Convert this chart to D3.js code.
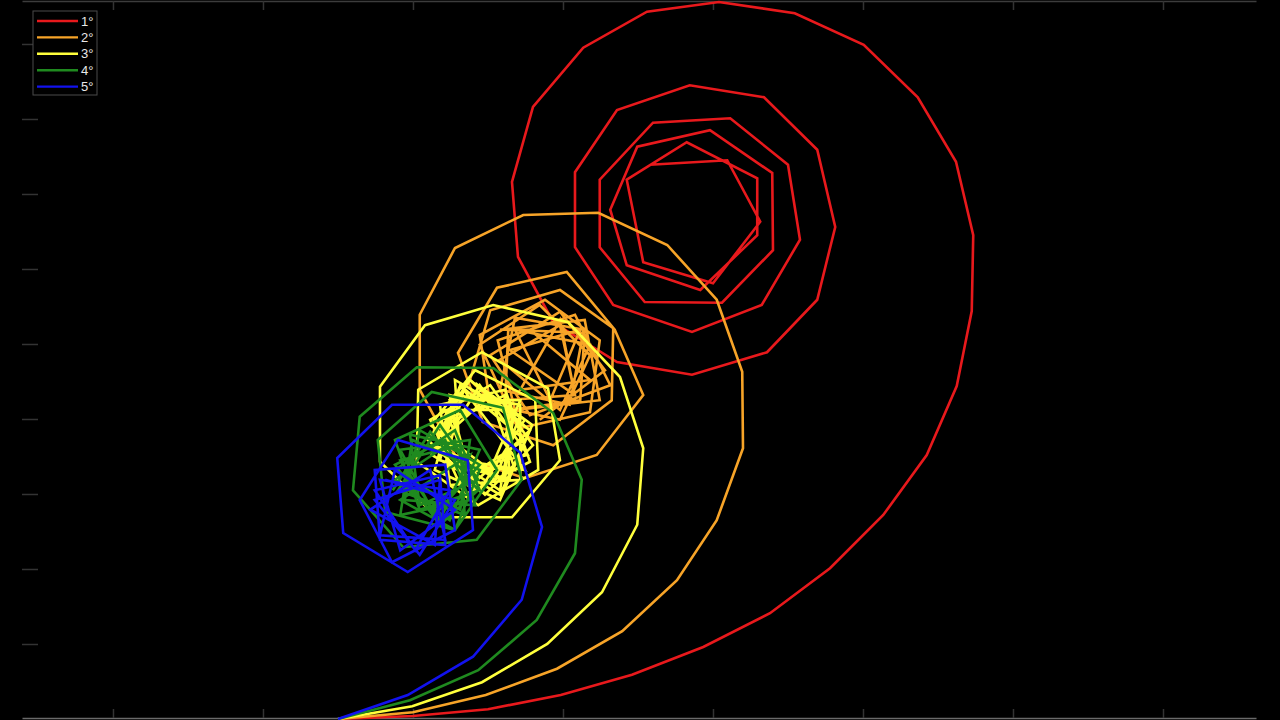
<!DOCTYPE html>
<html><head><meta charset="utf-8">
<script src="https://cdn.jsdelivr.net/npm/d3@7"></script>
<style>html,body{margin:0;padding:0;background:#000;}svg{display:block;}</style>
</head><body>
<script>
// Series labels and colours
const seriesNames = ["1°", "2°", "3°", "4°", "5°"];
const seriesColors = ["#e8191c", "#f7a428", "#ffff3c", "#1f8a1f", "#1212ee"];

// Tick positions (no labels shown)
const xTicks = [-3, -1, 1, 3, 5, 7, 9, 11];
const yTicks = [1, 2, 3, 4, 5, 6, 7, 8, 9];

// Path vertices (x, y in step units)
const red1X = [0,1.00,2.00,2.97,3.92,4.87,5.76,6.56,7.27,7.85,8.25,8.45,8.47,8.24,7.73,7.01,6.09,5.08,4.12,3.27,2.60,2.32,2.40,2.87,3.72,4.72,5.72,6.39,6.63,6.39,5.68,4.69,3.72,3.16,3.16,3.67,4.72,5.65,6.16,6.00,5.23,4.20,3.49,3.49,4.09,5.12,5.80,5.79,4.96,3.99,3.63,3.85,4.83,5.59,5.59,4.65,3.85,4.07,5.00,5.63,5.19,4.16];
const red1Y = [0,0.04,0.13,0.32,0.59,0.96,1.41,2.01,2.72,3.52,4.44,5.44,6.45,7.43,8.29,8.99,9.41,9.56,9.43,8.95,8.16,7.16,6.16,5.29,4.76,4.59,4.89,5.59,6.56,7.59,8.29,8.45,8.12,7.29,6.29,5.52,5.16,5.52,6.39,7.39,8.01,7.95,7.19,6.29,5.56,5.55,6.25,7.28,7.85,7.63,6.79,6.05,5.72,6.45,7.21,7.69,7.19,6.09,5.81,6.63,7.45,7.39];

const orange2X = [0,1.00,1.97,2.92,3.79,4.52,5.05,5.40,5.39,5.05,4.39,3.47,2.47,1.56,1.09,1.09,1.56,2.49,3.45,4.07,3.69,3.05,2.12,1.60,1.93,2.87,3.65,3.67,2.96,2.03,1.76,2.43,3.36,3.49,2.76,1.89,2.03,2.96,3.36,2.69,1.89,2.29,3.23,3.29,2.36,2.16,3.09,3.27,2.27,2.23,3.16,2.96,2.16,2.96,3.36,2.36,2.83,3.23,2.29,3.16,2.96,2.43,3.36,2.56,2.16,3.29,3.49,2.36,2.13,3.16,3.63,2.56,2.03,2.96,3.56,2.69];
const orange2Y = [0,0.09,0.32,0.67,1.17,1.85,2.65,3.61,4.63,5.59,6.32,6.75,6.72,6.28,5.39,4.39,3.52,3.21,3.52,4.32,5.19,5.96,5.75,4.88,3.96,3.65,4.25,5.21,5.72,5.45,4.52,3.88,4.09,5.05,5.59,5.12,4.19,3.99,4.85,5.52,4.99,4.12,4.25,5.19,5.35,4.39,4.19,5.15,5.19,4.25,4.32,5.25,4.79,4.12,4.99,5.19,4.25,5.19,4.92,4.32,5.32,4.39,4.52,5.19,5.19,5.32,4.25,4.12,5.05,5.39,4.45,4.05,4.85,5.43,4.65,3.99];

const yellow3X = [0,0.99,1.92,2.79,3.52,3.99,4.07,3.76,3.07,2.07,1.16,0.56,0.56,1.32,2.32,2.96,2.80,1.92,1.07,1.05,1.87,2.67,2.63,1.83,1.23,2.03,2.43,1.49,1.76,2.49,1.63,1.36,2.29,2.23,1.29,2.09,2.43,1.49,1.65,2.53,1.89,1.36,2.16,2.36,1.43,1.83,2.56,1.69,1.43,2.36,2.03,1.29,2.23,2.29,1.36,1.89,2.49,1.56,1.63,2.49,1.63,1.25,2.16,2.56,1.76,1.20,1.96,2.60,2.03,1.23,1.69,2.56,2.23,1.36,1.49,2.43,2.43,1.56,1.29,2.16,2.59,1.83];
const yellow3Y = [0,0.17,0.49,1.00,1.69,2.59,3.61,4.56,5.29,5.52,5.25,4.43,3.43,2.69,2.69,3.45,4.41,4.89,4.39,3.43,2.85,3.32,4.25,4.65,3.92,3.32,4.25,4.25,3.25,3.72,4.45,3.45,3.19,4.32,3.85,3.19,4.05,4.32,3.32,3.52,4.45,3.59,3.05,4.12,4.12,3.16,3.85,4.45,3.39,3.32,4.32,3.65,3.19,4.25,3.99,3.05,3.99,4.52,3.45,3.32,4.45,3.52,2.99,3.85,4.52,3.72,2.99,3.65,4.45,3.99,2.99,3.43,4.39,4.19,3.12,3.19,4.19,4.32,3.32,2.92,3.92,4.48];

const green4X = [0,0.96,1.87,2.65,3.16,3.25,2.87,2.07,1.05,0.29,0.20,0.87,1.85,2.45,2.20,1.25,0.53,0.63,1.56,2.12,1.63,0.76,1.09,1.89,1.56,0.76,1.63,1.76,0.83,1.29,1.89,1.09,0.89,1.83,1.56,0.76,1.49,1.89,0.96,1.09,1.87,1.36,0.80,1.69,1.63,0.83,1.36,1.76,0.83,1.56,1.89,0.99,0.83,1.76,1.43,0.76,1.36,1.87,1.23,0.73];
const green4Y = [0,0.25,0.65,1.32,2.21,3.19,4.08,4.68,4.69,4.03,3.05,2.29,2.39,3.19,4.15,4.36,3.72,2.76,2.52,3.32,4.12,3.72,2.79,3.05,3.85,3.32,2.79,3.72,3.59,2.72,3.39,3.85,2.92,2.85,3.72,3.19,2.65,3.59,3.79,2.85,3.19,3.92,3.05,2.72,3.65,3.45,2.65,3.52,2.92,2.52,3.32,3.72,2.72,2.92,3.72,3.39,2.59,3.05,3.83,3.05];

const blue5X = [0,0.93,1.80,2.45,2.72,2.43,1.67,0.72,-0.01,0.07,0.93,1.80,1.73,0.80,0.29,0.72,1.56,1.43,0.49,0.56,1.43,1.36,0.49,1.03,1.49,0.56,0.83,1.56,0.76,0.56,1.43,1.23,0.43,1.29,1.36,0.49,1.09,1.56,0.63];
const blue5Y = [0,0.32,0.83,1.59,2.56,3.55,4.19,4.19,3.48,2.48,1.96,2.52,3.45,3.72,2.92,2.09,2.52,3.39,3.32,2.39,2.32,3.25,3.05,2.25,3.05,3.19,2.25,2.79,3.32,2.45,2.39,3.32,2.79,2.32,3.19,2.92,2.19,2.92,3.19];

const seriesX = [red1X, orange2X, yellow3X, green4X, blue5X];
const seriesY = [red1Y, orange2Y, yellow3Y, green4Y, blue5Y];

const W = 1280, H = 720;
const plot = {left: 22, right: 1256, top: 1, bottom: 718};

const svg = d3.select("body").append("svg").attr("width", W).attr("height", H)
  .style("background", "#000");

const x = d3.scaleLinear().domain([-4.213, 12.24]).range([plot.left, plot.right]);
const y = d3.scaleLinear().domain([0.0133, 9.573]).range([plot.bottom, plot.top]);

// axes (dark frame, inward ticks, no labels)
const axisColor = "#333";
function styleAxis(g, lineColor) {
  g.select(".domain").attr("stroke", lineColor).attr("stroke-width", 1.5);
  g.selectAll(".tick line").attr("stroke", axisColor).attr("stroke-width", 1.5);
  g.selectAll("text").remove();
}
svg.append("g").attr("transform", `translate(0,${plot.bottom})`)
  .call(d3.axisBottom(x).tickValues(xTicks).tickSize(-9).tickSizeOuter(0).tickFormat(""))
  .call(g => styleAxis(g, "#6a6a6a"));
svg.append("g").attr("transform", `translate(0,${plot.top})`)
  .call(d3.axisTop(x).tickValues(xTicks).tickSize(-9).tickSizeOuter(0).tickFormat(""))
  .call(g => styleAxis(g, "#3c3c3c"));
svg.append("g").attr("transform", `translate(${plot.left},0)`)
  .call(d3.axisLeft(y).tickValues(yTicks).tickSize(-16).tickSizeOuter(0).tickFormat(""))
  .call(g => { styleAxis(g, "#000"); g.select(".domain").attr("stroke", "none"); });

// series
const line = d3.line().x(d => x(d[0])).y(d => y(d[1]));
seriesNames.forEach((name, i) => {
  const pts = seriesX[i].map((v, k) => [v, seriesY[i][k]]);
  svg.append("path").datum(pts)
    .attr("d", line)
    .attr("fill", "none")
    .attr("stroke", seriesColors[i])
    .attr("stroke-width", 2.6)
    .attr("stroke-linejoin", "miter");
});

// legend
const lg = svg.append("g").attr("transform", "translate(33,11)");
lg.append("rect").attr("width", 64).attr("height", 84)
  .attr("fill", "#000").attr("stroke", "#4a4a4a").attr("stroke-width", 1);
seriesNames.forEach((name, i) => {
  const yy = 10 + i * 16.4;
  lg.append("line").attr("x1", 4).attr("x2", 45).attr("y1", yy).attr("y2", yy)
    .attr("stroke", seriesColors[i]).attr("stroke-width", 2.4);
  lg.append("text").attr("x", 48).attr("y", yy + 4.5).text(name)
    .attr("fill", "#e8e8e8").attr("font-family", "Liberation Sans, Arial, sans-serif")
    .attr("font-size", 13);
});
</script>
</body></html>
